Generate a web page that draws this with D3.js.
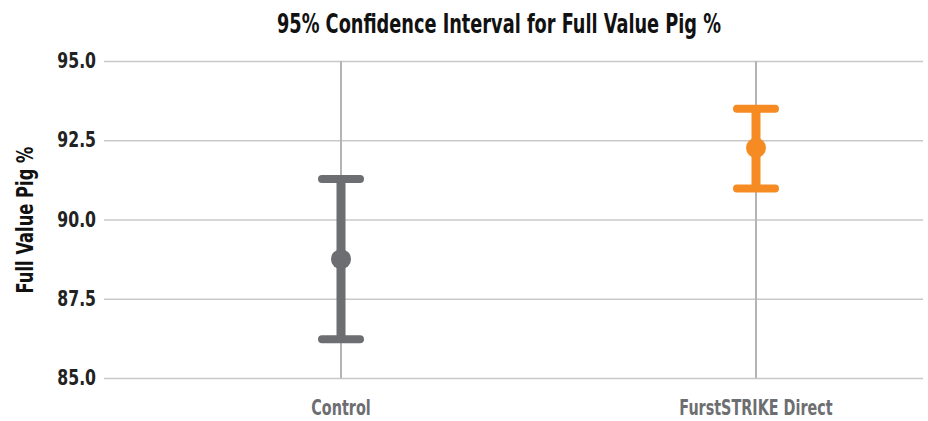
<!DOCTYPE html>
<html>
<head>
<meta charset="utf-8">
<script src="https://cdn.jsdelivr.net/npm/d3@7"></script>
<style>
  body { margin: 0; background: #fff; }
  text { font-family: "DejaVu Sans Condensed", "Liberation Sans Narrow", sans-serif; }
</style>
</head>
<body>
<div id="chart"></div>
<script>
var groups = ["Control", "FurstSTRIKE Direct"];
var means = [88.75, 92.26];
var lower = [86.22, 90.98];
var upper = [91.28, 93.49];
var colors = ["#6d6e71", "#f68b24"];
var yTicks = [85, 87.5, 90, 92.5, 95];

var width = 928, height = 421;
var plotLeft = 104, plotRight = 923, plotTop = 61, plotBottom = 378;

var svg = d3.select("#chart").append("svg")
    .attr("width", width)
    .attr("height", height);

var x = d3.scalePoint()
    .domain(groups)
    .range([341, 756]);

var y = d3.scaleLinear()
    .domain([85, 95])
    .range([plotBottom, plotTop]);

// squeeze the fallback font to match the narrow face of the original
function narrow(sel, ratio) {
  sel.each(function() {
    var w = this.getComputedTextLength();
    d3.select(this)
      .attr("textLength", w * ratio)
      .attr("lengthAdjust", "spacingAndGlyphs");
  });
}

// horizontal grid + tick labels
var yAxis = d3.axisLeft(y)
    .tickValues(yTicks)
    .tickFormat(d3.format(".1f"))
    .tickSize(-(plotRight - plotLeft))
    .tickPadding(8);

var gy = svg.append("g")
    .attr("transform", "translate(" + plotLeft + ",0)")
    .call(yAxis);
gy.select(".domain").remove();
gy.selectAll(".tick line").attr("stroke", "#c8c8c8").attr("stroke-width", 1.5);
gy.selectAll(".tick text")
    .attr("fill", "#222")
    .style("font-size", "21px")
    .style("font-weight", "bold")
    .call(narrow, 0.83);

// vertical category lines
svg.selectAll(".vline")
    .data(groups)
  .enter().append("line")
    .attr("class", "vline")
    .attr("x1", function(d) { return x(d); })
    .attr("x2", function(d) { return x(d); })
    .attr("y1", plotTop)
    .attr("y2", plotBottom)
    .attr("stroke", "#b4b4b6")
    .attr("stroke-width", 2);

// error bars
var bars = svg.selectAll(".ci")
    .data(groups)
  .enter().append("g")
    .attr("class", "ci");

bars.append("line")
    .attr("x1", function(d) { return x(d); })
    .attr("x2", function(d) { return x(d); })
    .attr("y1", function(d, i) { return y(upper[i]); })
    .attr("y2", function(d, i) { return y(lower[i]); })
    .attr("stroke", function(d, i) { return colors[i]; })
    .attr("stroke-width", 9);

[upper, lower].forEach(function(arr) {
  bars.append("line")
      .attr("x1", function(d) { return x(d) - 19; })
      .attr("x2", function(d) { return x(d) + 19; })
      .attr("y1", function(d, i) { return y(arr[i]); })
      .attr("y2", function(d, i) { return y(arr[i]); })
      .attr("stroke", function(d, i) { return colors[i]; })
      .attr("stroke-width", 8)
      .attr("stroke-linecap", "round");
});

bars.append("circle")
    .attr("cx", function(d) { return x(d); })
    .attr("cy", function(d, i) { return y(means[i]); })
    .attr("r", 10)
    .attr("fill", function(d, i) { return colors[i]; });

// x category labels
svg.selectAll(".xlabel")
    .data(groups)
  .enter().append("text")
    .attr("class", "xlabel")
    .attr("x", function(d) { return x(d); })
    .attr("y", 415)
    .attr("text-anchor", "middle")
    .attr("fill", "#6d6e71")
    .style("font-size", "21px")
    .style("font-weight", "bold")
    .text(function(d) { return d; })
    .call(narrow, 0.76);

// title
svg.append("text")
    .attr("x", 499)
    .attr("y", 33)
    .attr("text-anchor", "middle")
    .attr("fill", "#111")
    .style("font-size", "27px")
    .style("font-weight", "bold")
    .text("95% Confidence Interval for Full Value Pig %")
    .call(narrow, 0.73);

// y axis title
svg.append("text")
    .attr("transform", "translate(33,220) rotate(-90)")
    .attr("text-anchor", "middle")
    .attr("fill", "#111")
    .style("font-size", "23px")
    .style("font-weight", "bold")
    .text("Full Value Pig %")
    .call(narrow, 0.79);
</script>
</body>
</html>
